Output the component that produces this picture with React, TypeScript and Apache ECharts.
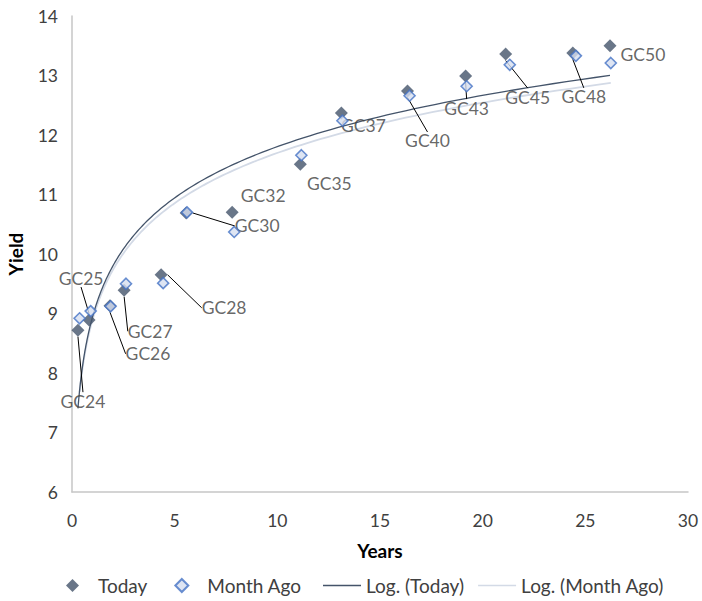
import React, { useEffect, useRef } from "react";
import * as echarts from "echarts";

// ---- data ----
const bonds = ["GC24", "GC25", "GC26", "GC27", "GC28", "GC30", "GC32", "GC35", "GC37", "GC40", "GC43", "GC45", "GC48", "GC50"];
const todayYears = [0.29, 0.83, 1.85, 2.54, 4.34, 5.56, 7.8, 11.12, 13.12, 16.34, 19.17, 21.12, 24.39, 26.2];
const todayYield = [8.72, 8.89, 9.13, 9.39, 9.65, 10.69, 10.7, 11.51, 12.37, 12.74, 12.99, 13.36, 13.38, 13.5];
const monthAgoYears = [0.37, 0.91, 1.88, 2.63, 4.44, 5.6, 7.9, 11.17, 13.17, 16.44, 19.22, 21.32, 24.54, 26.24];
const monthAgoYield = [8.92, 9.04, 9.12, 9.5, 9.51, 10.7, 10.37, 11.66, 12.24, 12.66, 12.82, 13.18, 13.33, 13.21];

// ---- label layout (pixel offsets of each data label from its point) ----
const labelDx = [5, -8, 38, 26, 63, 71, 31, 29, 22, 20, 1, 22, 11, 33];
const labelDy = [71, -42, 48, 41, 33, 13, -17, 19, 13, 50, 32, 43, 44, 9];
const leader = [true, true, true, true, true, true, false, false, false, true, true, true, true, false];

const FONT = "Lato, 'Liberation Sans', sans-serif";
const TEXT = "#404040";
const TODAY_COLOR = "#44546A";
const MONTH_TREND = "#D3DAE6";

// Excel-style logarithmic trendline: least squares fit of y = a ln(x) + b
function logFit(xs: number[], ys: number[]) {
  const n = xs.length;
  const lx = xs.map((x) => Math.log(x));
  const mx = lx.reduce((s, v) => s + v, 0) / n;
  const my = ys.reduce((s, v) => s + v, 0) / n;
  let sxy = 0;
  let sxx = 0;
  for (let i = 0; i < n; i++) {
    sxy += (lx[i] - mx) * (ys[i] - my);
    sxx += (lx[i] - mx) * (lx[i] - mx);
  }
  const a = sxy / sxx;
  return { a, b: my - a * mx };
}

function trendPoints(xs: number[], ys: number[]) {
  const { a, b } = logFit(xs, ys);
  const lo = Math.min(...xs);
  const hi = Math.max(...xs);
  const pts: number[][] = [];
  const N = 160;
  for (let k = 0; k <= N; k++) {
    const x = lo * Math.pow(hi / lo, k / N);
    pts.push([x, a * Math.log(x) + b]);
  }
  return pts;
}

export default function App() {
  const ref = useRef<HTMLDivElement>(null);

  useEffect(() => {
    const chart = echarts.init(ref.current!, null, { renderer: "svg" });

    const todayData = bonds.map((name, i) => ({
      name,
      value: [todayYears[i], todayYield[i]],
      labelLine: { show: leader[i] },
    }));
    const monthData = bonds.map((name, i) => ({
      name,
      value: [monthAgoYears[i], monthAgoYield[i]],
    }));

    const option: any = {
      animation: false,
      textStyle: { fontFamily: FONT },
      grid: { left: 72, right: 14, top: 16, bottom: 109, containLabel: false, outerBoundsMode: "none" },
      xAxis: {
        type: "value",
        min: 0,
        max: 30,
        interval: 5,
        name: "Years",
        nameLocation: "middle",
        nameGap: 49,
        nameTextStyle: { fontFamily: FONT, fontSize: 19, fontWeight: "bold", color: "#000" },
        axisLine: { show: true, onZero: false, lineStyle: { color: "#C6C6C6", width: 1.5 } },
        axisTick: { show: false },
        splitLine: { show: false },
        axisLabel: { fontFamily: FONT, fontSize: 17.5, color: TEXT, margin: 19 },
      },
      yAxis: {
        type: "value",
        min: 6,
        max: 14,
        interval: 1,
        name: "Yield",
        nameLocation: "middle",
        nameGap: 47,
        nameTextStyle: { fontFamily: FONT, fontSize: 19, fontWeight: "bold", color: "#000" },
        axisLine: { show: true, onZero: false, lineStyle: { color: "#C6C6C6", width: 1.5 } },
        axisTick: { show: false },
        splitLine: { show: false },
        axisLabel: { fontFamily: FONT, fontSize: 17.5, color: TEXT, margin: 14 },
      },
      legend: [
        {
          data: [
            { name: "Today", icon: "diamond" },
            { name: "Month Ago", icon: "diamond" },
          ],
          left: 61,
          top: 571,
          itemWidth: 13,
          itemHeight: 13,
          itemGap: 27,
          textStyle: { fontFamily: FONT, fontSize: 19, color: TEXT, padding: [0, 0, 0, 14] },
        },
        {
          data: [
            { name: "Log. (Today)", icon: "rect", itemStyle: { color: TODAY_COLOR } },
            { name: "Log. (Month Ago)", icon: "rect", itemStyle: { color: MONTH_TREND } },
          ],
          left: 318,
          top: 571,
          itemWidth: 38,
          itemHeight: 1.6,
          itemGap: 14,
          textStyle: { fontFamily: FONT, fontSize: 19, color: TEXT },
        },
      ],
      series: [
        {
          name: "Today",
          type: "scatter",
          symbol: "diamond",
          symbolSize: 13,
          itemStyle: { color: TODAY_COLOR },
          data: todayData,
          z: 3,
          label: {
            show: true,
            position: "inside",
            formatter: "{b}",
            fontFamily: FONT,
            fontSize: 17.5,
            color: TEXT,
          },
          labelLine: { show: true, lineStyle: { color: "#000", width: 1 } },
          labelLayout: (params: any) => ({
            dx: labelDx[params.dataIndex],
            dy: labelDy[params.dataIndex],
            hideOverlap: false,
          }),
        },
        {
          name: "Month Ago",
          type: "scatter",
          symbol: "diamond",
          symbolSize: 11,
          itemStyle: { color: "#D6DFF0", borderColor: "#4472C4", borderWidth: 1.6 },
          data: monthData,
          z: 4,
        },
        {
          name: "Log. (Today)",
          type: "line",
          symbol: "none",
          showSymbol: false,
          lineStyle: { color: TODAY_COLOR, width: 1.3 },
          itemStyle: { color: TODAY_COLOR },
          data: trendPoints(todayYears, todayYield),
          z: 2,
        },
        {
          name: "Log. (Month Ago)",
          type: "line",
          symbol: "none",
          showSymbol: false,
          lineStyle: { color: MONTH_TREND, width: 1.8 },
          itemStyle: { color: MONTH_TREND },
          data: trendPoints(monthAgoYears, monthAgoYield),
          z: 1,
        },
      ],
    };

    chart.setOption(option);
    return () => chart.dispose();
  }, []);

  return (
    <div
      ref={ref}
      style={{ position: "fixed", left: 0, top: 0, width: 702, height: 601, background: "#fff" }}
    />
  );
}
